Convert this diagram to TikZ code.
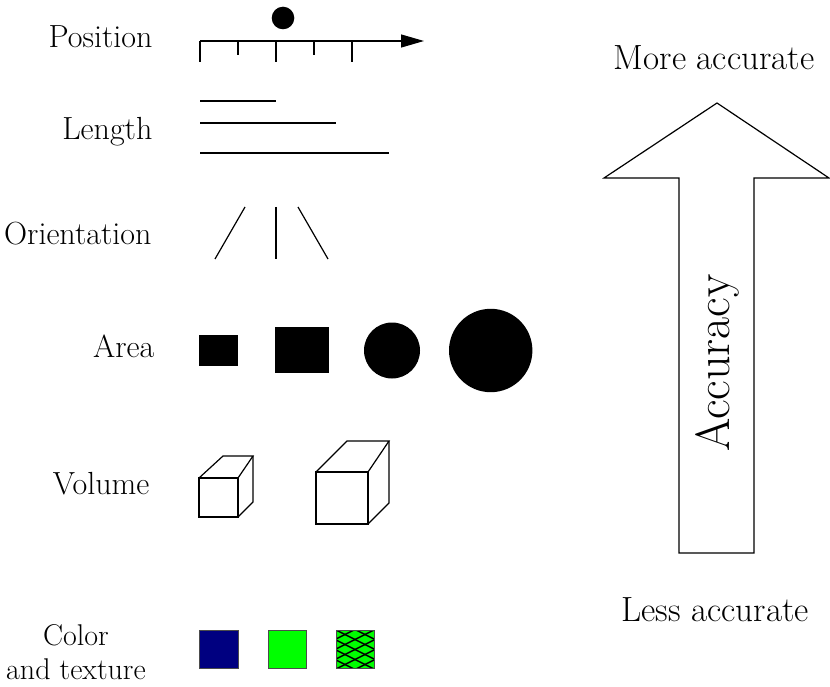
\documentclass[tikz,border=0pt]{standalone}
\usepackage{fontspec}
\usetikzlibrary{arrows.meta}
\definecolor{navyfill}{RGB}{0,0,128}
\definecolor{greenfill}{RGB}{0,255,0}
\tikzset{%
    axis/.style={%
        -{Triangle[length=23pt, width=13pt]},
    },
    label/.style={%
        anchor=base east,
        inner sep=0pt,
        font=\fontsize{32}{34}\selectfont,
    },
    accuracy/.style={%
        anchor=base,
        inner sep=0pt,
        font=\fontsize{35}{34}\selectfont,
    },
    swatch/.style={%
        draw=black!70, line width=1pt,
    },
}

\begin{document}
\begin{tikzpicture}[x=1pt, y=-1pt, line width=1.2pt]
	\useasboundingbox (0, 0) rectangle (830, 687);

	% labels
	\node [label] at (153, 48) (lbl_pos) {Position};
	\node [label] at (153, 140) (lbl_len) {Length};
	\node [label] at (152, 244) (lbl_ori) {Orientation};
	\node [label] at (155, 357) (lbl_area) {Area};
	\node [label] at (150, 494) (lbl_vol) {Volume};
	\node [accuracy, align=center, font=\fontsize{30}{34}\selectfont] at (76, 679) (lbl_col) {Color\\and texture};

	% position
	\coordinate (axis_start) at (200, 41);
	\coordinate (axis_end) at (424, 41);
	\draw[axis] (axis_start) -- (axis_end);
	\foreach \x/\h in {200/62, 238/55, 276/62, 314/55, 352/62}
		\draw (\x, 41) -- (\x, \h);
	\fill (283, 18) circle (11.3);

	% length
	\draw (200, 101) -- (276, 101);
	\draw (200, 123) -- (336, 123);
	\draw (200, 153) -- (389, 153);

	% orientation
	\draw (245, 207) -- (215, 259);
	\draw (276, 207) -- (276, 259);
	\draw (298, 207) -- (328, 259);

	% area
	\fill (199, 335) rectangle (238, 366);
	\fill (275, 327) rectangle (329, 373);
	\fill (392, 350.5) circle (28);
	\fill (490.7, 350.5) circle (41.7);

	% volume
	\draw (199, 478) -- (238, 478) -- (238, 517) -- (199, 517) -- cycle;
	\draw (199, 478) -- (223, 456) -- (253, 456) -- (238, 478);
	\draw (253, 456) -- (253, 502) -- (238, 517);
	\draw (316, 472) -- (368, 472) -- (368, 524) -- (316, 524) -- cycle;
	\draw (316, 472) -- (347, 441) -- (389, 441) -- (368, 472);
	\draw (389, 441) -- (389, 503) -- (368, 524);

	% color and texture
	\filldraw[swatch, fill=navyfill] (199, 630) rectangle (238, 668);
	\filldraw[swatch, fill=greenfill] (268, 630) rectangle (306, 668);
	\filldraw[swatch, fill=greenfill] (336, 630) rectangle (374, 668);
	\begin{scope}
		\clip (336, 630) rectangle (374, 668);
		\foreach \k in {-3,...,6} {
			\draw[line width=1.4pt] (336, 620+10*\k) -- (374, 639+10*\k);
			\draw[line width=1.4pt] (336, 639+10*\k) -- (374, 620+10*\k);
		}
	\end{scope}
	\draw[swatch] (336, 630) rectangle (374, 668);

	% accuracy arrow
	\draw (717, 103) -- (829, 178) -- (754, 178) -- (754, 553) -- (679, 553)
		-- (679, 178) -- (604, 178) -- cycle;
	\node [rotate=90, inner sep=0pt, font=\fontsize{48}{50}\selectfont] at (717, 363) (acc) {Accuracy};
	\node [accuracy] at (714, 70) (more) {More accurate};
	\node [accuracy] at (715, 621) (less) {Less accurate};
\end{tikzpicture}
\end{document}
